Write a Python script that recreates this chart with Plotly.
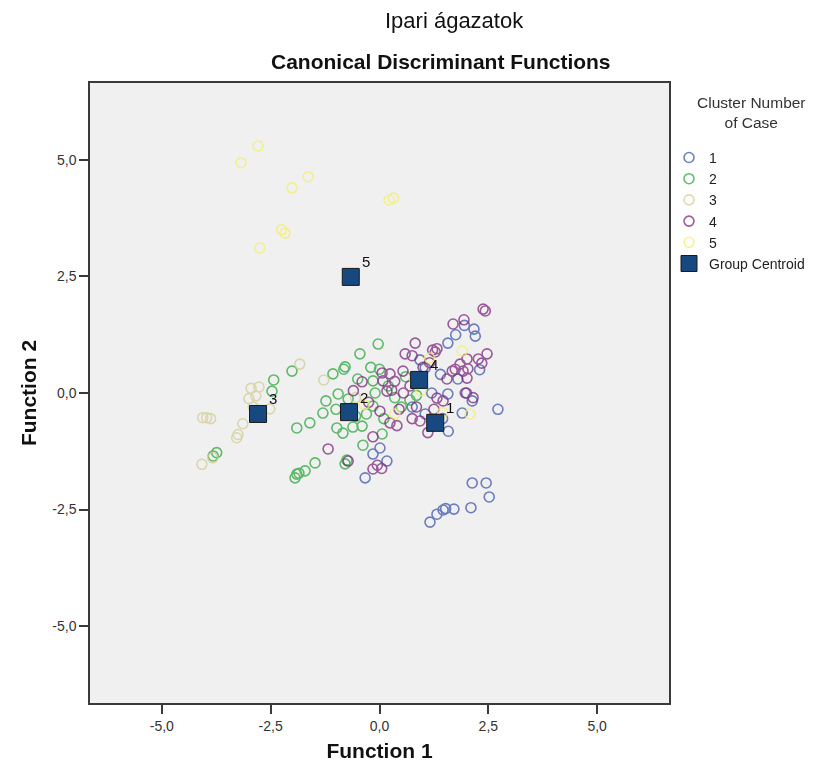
import plotly.graph_objects as go

# ---- data ----
x1 = [1.16, 1.32, 1.46, 1.52, 1.71, 2.10, 2.52, 2.45, 2.13, 0.01, -0.15, -0.33, 0.17,
      1.58, 1.90, 2.72, 2.13, 2.00, 1.57, 1.57, 1.75, 2.17, 2.20, 1.05, 0.75, 1.45,
      0.93, 1.05, 0.86, 1.80, 2.30, 1.20, 1.40, 1.95]
y1 = [-2.77, -2.60, -2.51, -2.48, -2.49, -2.46, -2.23, -1.93, -1.93, -1.18, -1.31, -1.82, -1.46,
      -0.82, -0.43, -0.35, -0.17, 0.00, -0.02, 1.07, 1.25, 1.37, 1.22, -0.45, -0.30, -0.55,
      0.71, 0.54, 0.26, 0.30, 0.50, 0.00, 0.40, 1.45]

x2 = [-0.03, -0.45, -0.79, -0.82, -1.07, -2.01, -2.43, -2.47, -1.23, -1.30, -1.60, -1.90,
      -0.95, -0.72, -0.98, -0.84, -0.61, -0.40, -0.38, -0.15, 0.00, -0.15, 0.06, -3.74, -3.82,
      -1.48, -1.71, -1.90, -1.94, -1.85, -0.79, -0.75, -0.10, 0.20, 0.35, 0.50, 0.70, 0.85,
      -0.50, -0.30, -0.55, 0.10, 0.60, -0.20, -1.00]
y2 = [1.05, 0.84, 0.56, 0.51, 0.41, 0.47, 0.28, 0.04, -0.17, -0.43, -0.64, -0.75,
      -0.02, -0.13, -0.75, -0.86, -0.73, -0.71, -1.12, 0.26, 0.51, -0.28, -0.88, -1.28, -1.35,
      -1.50, -1.67, -1.74, -1.82, -1.72, -1.52, -1.44, 0.00, 0.15, -0.10, -0.30, -0.15, -0.05,
      0.30, -0.45, -0.50, -0.55, 0.35, 0.55, -0.35]

x3 = [-1.83, -2.95, -2.77, -3.00, -2.84, -2.52, -3.14, -3.25, -3.28, -3.97, -4.06, -3.88,
      -4.08, -3.83, -1.28, -2.90, -0.55]
y3 = [0.62, 0.10, 0.13, -0.12, -0.06, -0.34, -0.66, -0.89, -0.96, -0.53, -0.53, -0.55,
      -1.53, -1.39, 0.28, -0.30, -0.10]

x4 = [2.38, 2.43, 1.94, 1.69, 0.82, 0.59, 0.75, 1.22, 1.28, 1.32, 2.47, 2.27, 2.35, 2.01,
      1.85, 1.74, 1.67, 1.92, 2.03, 1.55, 2.01, 0.54, 0.24, 0.08, 0.35, 1.97, 2.15, 1.32,
      1.46, 1.11, 0.93, 0.75, 0.05, -0.40, 0.06, 0.17, 0.28, 0.01, -0.15, -1.18, -0.72,
      -0.15, -0.05, 0.24, 0.40, 0.55, 0.70, 1.00, 1.15, 0.45, -0.25, -0.60, 1.25, 0.85]
y4 = [1.80, 1.76, 1.57, 1.48, 1.07, 0.84, 0.80, 0.92, 0.88, 0.95, 0.84, 0.73, 0.64, 0.73,
      0.62, 0.51, 0.47, 0.47, 0.52, 0.30, 0.32, 0.47, 0.41, 0.26, 0.25, 0.00, -0.10, -0.11,
      -0.17, -0.85, -0.60, -0.55, -1.62, 0.24, 0.43, 0.04, 0.06, -0.39, -0.94, -1.20, -1.46,
      -1.63, -1.55, -0.64, -0.70, 0.00, 0.15, 0.55, 0.65, -0.35, -0.20, 0.05, -0.35, -0.30]

x5 = [-2.79, -3.18, -2.01, -1.64, 0.22, 0.32, -2.17, -2.25, -2.75, 1.45, 2.08, 1.15, 0.80,
      0.35, 1.90, 0.95, -0.35]
y5 = [5.30, 4.94, 4.40, 4.64, 4.14, 4.18, 3.43, 3.50, 3.11, -0.42, -0.45, 0.75, 0.30,
      -0.45, 0.90, 0.05, -0.25]

centroid_x = [1.28, -0.70, -2.79, 0.91, -0.66]
centroid_y = [-0.64, -0.41, -0.45, 0.28, 2.49]
centroid_labels = ["1", "2", "3", "4", "5"]

cluster_names = ["1", "2", "3", "4", "5"]
cluster_colors = ["#3E58AC", "#2EA83E", "#D3CE97", "#7C287D", "#F4EF6A"]

tick_vals = [-5, -2.5, 0, 2.5, 5]
tick_text = ["-5,0", "-2,5", "0,0", "2,5", "5,0"]

FONT = "Liberation Sans, Arial, sans-serif"

# ---- figure ----
fig = go.Figure()
series = [(x1, y1), (x2, y2), (x3, y3), (x4, y4), (x5, y5)]
for (xs, ys), name, col in zip(series, cluster_names, cluster_colors):
    fig.add_trace(go.Scatter(
        x=xs, y=ys, mode="markers", name=name,
        marker=dict(symbol="circle-open", size=10, color=col, line=dict(width=1.6)),
        opacity=0.75,
    ))

fig.add_trace(go.Scatter(
    x=centroid_x, y=centroid_y, mode="markers", name="Group Centroid",
    marker=dict(symbol="square", size=17, color="#17487F",
                line=dict(color="#1a1a1a", width=1)),
))

annotations = [
    dict(x=cx, y=cy, text=lab, xref="x", yref="y", xshift=15, yshift=15,
         showarrow=False, xanchor="center", yanchor="middle",
         font=dict(family=FONT, size=15, color="#111"))
    for cx, cy, lab in zip(centroid_x, centroid_y, centroid_labels)
]
annotations += [
    dict(text="Ipari ágazatok", xref="paper", yref="paper", x=0.63, y=1.1,
         xanchor="center", yanchor="middle", showarrow=False,
         font=dict(family=FONT, size=22, color="#111")),
    dict(text="<b>Canonical Discriminant Functions</b>", xref="paper", yref="paper",
         x=0.607, y=1.034, xanchor="center", yanchor="middle", showarrow=False,
         font=dict(family=FONT, size=21, color="#111")),
    dict(text="Cluster Number<br>of Case", xref="paper", yref="paper", x=1.143, y=0.952,
         xanchor="center", yanchor="middle", showarrow=False, align="center",
         font=dict(family=FONT, size=15.5, color="#333")),
]

axis_common = dict(
    range=[-6.65, 6.65], tickvals=tick_vals, ticktext=tick_text,
    showgrid=False, zeroline=False, showline=True, mirror=True,
    linecolor="#3a3a3a", linewidth=1.5, ticks="outside", ticklen=9,
    tickcolor="#3a3a3a", tickwidth=1.5,
    tickfont=dict(family=FONT, size=14, color="#333"),
)

fig.update_layout(
    width=811, height=763,
    margin=dict(l=82, r=150, t=75, b=68, autoexpand=False),
    paper_bgcolor="white", plot_bgcolor="#F0F0F0",
    xaxis=dict(**axis_common,
               title=dict(text="<b>Function 1</b>", standoff=11,
                          font=dict(family=FONT, size=21, color="#111"))),
    yaxis=dict(**axis_common,
               title=dict(text="<b>Function 2</b>", standoff=10,
                          font=dict(family=FONT, size=21, color="#111"))),
    legend=dict(
        x=1.0, y=0.905, xanchor="left", yanchor="top",
        xref="paper", yref="paper",
        itemwidth=30, bgcolor="rgba(0,0,0,0)",
        font=dict(family=FONT, size=14, color="#222"),
    ),
    showlegend=True,
    annotations=annotations,
)

fig.write_html("out.html")
